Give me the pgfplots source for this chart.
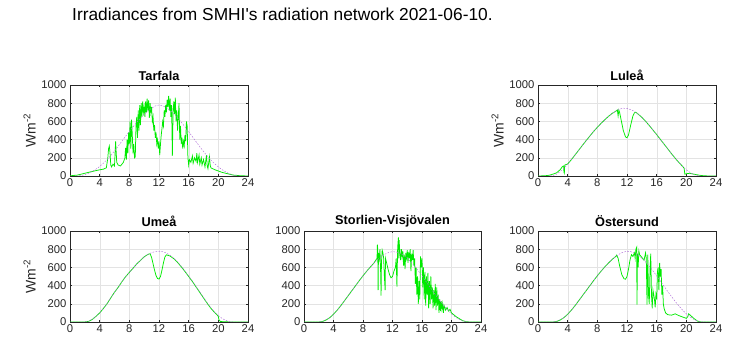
\documentclass[border=0pt]{standalone}
\usepackage{fontspec}
\setmainfont{Liberation Sans}
\newfontfamily\nolig{Liberation Sans}
\usepackage{pgfplots}
\pgfplotsset{compat=1.18}
\definecolor{mgreen}{RGB}{0,235,0}
\definecolor{mpurple}{RGB}{175,110,215}
\definecolor{tickgray}{RGB}{38,38,38}
\pgfplotsset{irr/.style={
 scale only axis, width=178bp, height=91bp, anchor=south west,
 xmin=0,xmax=24,ymin=0,ymax=1000,
 xtick={0,4,...,24}, ytick={0,200,...,1000},
 scaled ticks=false,
 grid=major, grid style={gray!22, line width=0.3pt},
 axis line style={tickgray, line width=0.45pt},
 tick style={tickgray, line width=0.4pt}, major tick length=2bp, tick align=inside,
 ticklabel style={font=\fontsize{11.3}{13}\selectfont, text=tickgray},
 xticklabel style={yshift=1bp},
 /pgf/number format/assume math mode=true,
 /pgf/number format/set thousands separator={},
 title style={font=\bfseries\fontsize{12.8}{14}\selectfont, yshift=-5.5bp},
 ylabel style={font=\fontsize{14}{16}\selectfont, text=tickgray, yshift=-1bp},
},
grn/.style={color=mgreen, line width=0.75bp, no marks},
clr/.style={color=mpurple, line width=0.45bp, dash pattern=on 1.6bp off 1.4bp, no marks}
}
\begin{document}
\begin{tikzpicture}
\path[use as bounding box] (0,0) rectangle (739bp,358bp);
\node[anchor=base west, inner sep=0pt, font=\nolig\fontsize{17.4}{20}\selectfont] at (72bp,337bp) {Irradiances from SMHI's radiation network 2021-06-10.};

% ---------------- Tarfala
\begin{axis}[irr, at={(70bp,182bp)}, title={Tarfala}, ylabel={Wm\textsuperscript{-2}}]
\addplot[grn] coordinates {
(0,2)(1,10)(2,30)(3,50)(4,68)(4.5,75)(4.9,90)(5.1,200)(5.2,300)(5.3,330)(5.4,250)(5.5,120)(5.6,100)(5.8,130)(6.0,110)(6.15,380)(6.3,150)(6.5,120)(6.8,110)(7.0,130)(7.2,150)(7.4,200)(7.5,310)(7.6,180)(7.7,400)(7.8,250)(7.9,480)(8.0,350)(8.1,600)(8.2,300)(8.3,620)(8.4,450)(8.5,250)(8.6,350)(8.7,200)(8.8,210)(8.9,550)(9.0,650)(9.1,420)(9.2,720)(9.3,500)(9.4,780)(9.5,560)(9.6,800)(9.7,650)(9.8,820)(9.9,700)(10.0,760)(10.1,650)(10.2,820)(10.3,700)(10.4,850)(10.5,720)(10.6,830)(10.7,640)(10.8,800)(10.9,700)(11.0,760)(11.1,600)(11.2,650)(11.3,500)(11.4,560)(11.5,420)(11.6,480)(11.7,350)(11.8,400)(11.9,300)(12.0,380)(12.1,230)(12.2,350)(12.3,450)(12.4,520)(12.5,600)(12.6,550)(12.7,720)(12.8,650)(12.9,780)(13.0,700)(13.1,840)(13.2,760)(13.3,880)(13.4,720)(13.5,850)(13.6,650)(13.7,780)(13.8,220)(13.9,700)(14.0,820)(14.1,680)(14.2,860)(14.3,600)(14.4,720)(14.5,500)(14.6,650)(14.7,800)(14.8,400)(14.9,550)(15.0,350)(15.1,420)(15.2,300)(15.3,380)(15.4,330)(15.5,450)(15.6,380)(15.7,600)(15.8,550)(15.9,200)(16.0,120)(16.1,180)(16.3,150)(16.5,220)(16.6,140)(16.8,200)(17.0,160)(17.1,250)(17.2,150)(17.4,230)(17.5,130)(17.7,200)(17.8,120)(18.0,180)(18.2,100)(18.4,230)(18.5,110)(18.6,80)(18.8,210)(18.9,120)(19.0,90)(19.5,70)(20.0,55)(20.5,40)(21.0,30)(21.5,20)(22.0,10)(23.0,3)(24.0,0)};
\addplot[clr] coordinates {
(0,0)(1,0)(1.5,5)(2,15)(2.5,30)(3,50)(3.5,75)(4,105)(4.5,140)(5,180)(5.5,225)(6,275)(6.5,328)(7,382)(7.5,437)(8,490)(8.5,540)(9,590)(9.5,635)(10,677)(10.5,714)(11,745)(11.5,770)(12,780)(12.5,772)(13,750)(13.5,720)(14,682)(14.5,640)(15,592)(15.5,540)(16,487)(16.5,432)(17,377)(17.5,322)(18,270)(18.5,220)(19,175)(19.5,135)(20,100)(20.5,70)(21,45)(21.5,25)(22,10)(22.5,3)(23,0)(24,0)};
\end{axis}

% ---------------- Lulea
\begin{axis}[irr, at={(538bp,182bp)}, title={Luleå}, ylabel={Wm\textsuperscript{-2}}]
\addplot[grn] coordinates {
(0,0)(1,3)(1.5,8)(2,20)(2.5,35)(3,70)(3.3,105)(3.45,110)(3.5,40)(3.55,30)(3.6,120)(4,132)(4.5,180)(5,232)(5.5,285)(6,338)(6.5,390)(7,440)(7.5,490)(8,535)(8.5,578)(9,618)(9.5,655)(10,688)(10.5,712)(10.7,726)(10.8,660)(10.9,724)(11.0,700)(11.2,620)(11.5,500)(11.8,430)(12.0,420)(12.2,450)(12.5,560)(12.8,660)(13.0,695)(13.2,700)(13.5,680)(14,645)(14.5,602)(15,555)(15.5,505)(16,455)(16.5,402)(17,350)(17.5,298)(18,245)(18.5,195)(19,148)(19.5,105)(19.7,85)(19.8,20)(20.0,25)(20.5,30)(21,20)(22,5)(23,0)(24,0)};
\addplot[clr] coordinates {
(0,0)(1.5,0)(2,5)(2.5,20)(3,50)(3.5,85)(4,130)(4.5,180)(5,232)(5.5,285)(6,338)(6.5,390)(7,440)(7.5,490)(8,535)(8.5,578)(9,618)(9.5,655)(10,688)(10.5,715)(11,735)(11.5,745)(12,742)(12.5,730)(13,710)(13.5,680)(14,645)(14.5,602)(15,555)(15.5,505)(16,455)(16.5,402)(17,350)(17.5,298)(18,245)(18.5,195)(19,148)(19.5,105)(20,68)(20.5,38)(21,15)(21.5,4)(22,0)(24,0)};
\end{axis}

% ---------------- Umea
\begin{axis}[irr, at={(70bp,36bp)}, title={Umeå}, ylabel={Wm\textsuperscript{-2}}]
\addplot[grn] coordinates {
(0,0)(1.5,0)(2,1)(2.5,6)(3,28)(3.3,48)(3.5,62)(4,100)(4.5,148)(5,202)(5.5,265)(6,327)(6.5,381)(7,443)(7.5,498)(8,545)(8.5,591)(9,638)(9.5,677)(10,716)(10.5,743)(10.8,750)(11.0,710)(11.2,640)(11.4,570)(11.6,510)(11.8,478)(12.0,472)(12.2,500)(12.4,570)(12.6,650)(12.8,715)(13.0,738)(13.5,725)(14,695)(14.5,655)(15,607)(15.5,555)(16,500)(16.5,445)(17,385)(17.5,325)(18,265)(18.5,205)(19,150)(19.5,104)(19.9,72)(20.0,60)(20.1,20)(20.3,5)(21,2)(22,0)(24,0)};
\addplot[clr] coordinates {
(0,0)(2,0)(2.5,8)(3,31)(3.5,62)(4,101)(4.5,148)(5,202)(5.5,265)(6,327)(6.5,381)(7,443)(7.5,498)(8,545)(8.5,591)(9,638)(9.5,677)(10,716)(10.5,743)(11,762)(11.5,774)(12,778)(12.5,772)(13,758)(13.5,732)(14,700)(14.5,660)(15,612)(15.5,560)(16,505)(16.5,450)(17,390)(17.5,330)(18,270)(18.5,210)(19,155)(19.5,108)(20,70)(20.5,40)(21,18)(21.5,5)(22,0)(24,0)};
\end{axis}

% ---------------- Storlien-Visjovalen
\begin{axis}[irr, width=177bp, at={(304bp,36bp)}, title={Storlien-Visjövalen}]
\addplot[grn] coordinates {
(0,0)(2,0)(2.5,5)(3,22)(3.5,48)(4,85)(4.5,130)(5,180)(5.5,235)(6,290)(6.5,345)(7,400)(7.5,455)(8,508)(8.5,558)(9,605)(9.5,650)(9.9,700)(9.95,850)(10.0,800)(10.05,350)(10.1,760)(10.2,700)(10.3,800)(10.4,520)(10.45,290)(10.5,650)(10.6,790)(10.7,760)(10.8,700)(10.9,500)(11.0,350)(11.05,700)(11.2,650)(11.4,580)(11.6,520)(11.8,485)(12.0,500)(12.2,560)(12.4,600)(12.5,700)(12.6,390)(12.7,820)(12.8,930)(12.85,700)(12.9,900)(13.0,750)(13.1,680)(13.2,800)(13.3,720)(13.4,780)(13.5,620)(13.6,740)(13.7,580)(13.8,760)(13.9,700)(14.0,790)(14.1,650)(14.2,770)(14.3,700)(14.4,800)(14.5,560)(14.6,750)(14.7,680)(14.8,790)(14.9,620)(15.0,700)(15.1,420)(15.2,600)(15.3,300)(15.4,500)(15.5,200)(15.6,450)(15.7,250)(15.8,720)(15.9,600)(16.0,700)(16.1,380)(16.2,600)(16.3,250)(16.4,550)(16.5,180)(16.6,500)(16.7,300)(16.8,540)(16.9,150)(17.0,450)(17.1,200)(17.2,500)(17.3,250)(17.4,380)(17.5,150)(17.6,350)(17.7,180)(17.8,420)(17.9,130)(18.0,380)(18.1,180)(18.2,300)(18.3,100)(18.4,250)(18.5,120)(18.6,230)(18.7,140)(18.8,200)(18.9,100)(19.0,180)(19.2,130)(19.4,160)(19.6,120)(19.8,140)(20.0,100)(20.3,80)(20.6,60)(21.0,40)(21.5,15)(22.0,3)(22.5,0)(24,0)};
\addplot[clr] coordinates {
(0,0)(2,0)(2.5,8)(3,25)(3.5,50)(4,85)(4.5,130)(5,180)(5.5,235)(6,290)(6.5,345)(7,400)(7.5,455)(8,508)(8.5,558)(9,605)(9.5,648)(10,688)(10.5,720)(11,746)(11.5,765)(12,773)(12.5,770)(13,756)(13.5,732)(14,700)(14.5,660)(15,614)(15.5,562)(16,507)(16.5,450)(17,392)(17.5,335)(18,280)(18.5,226)(19,176)(19.5,130)(20,90)(20.5,56)(21,30)(21.5,12)(22,3)(22.5,0)(24,0)};
\end{axis}

% ---------------- Ostersund
\begin{axis}[irr, at={(538bp,36bp)}, title={Östersund}]
\addplot[grn] coordinates {
(0,0)(2,0)(2.5,5)(3,22)(3.5,48)(4,85)(4.5,130)(5,180)(5.5,235)(6,290)(6.5,345)(7,400)(7.5,455)(8,508)(8.5,558)(9,605)(9.5,648)(10,688)(10.5,722)(10.6,735)(10.8,700)(11.0,620)(11.3,520)(11.6,475)(11.8,470)(12.0,500)(12.2,580)(12.4,680)(12.6,740)(12.8,720)(13.0,760)(13.1,700)(13.2,800)(13.3,820)(13.35,190)(13.4,750)(13.5,600)(13.6,780)(13.7,740)(13.9,720)(14.1,700)(14.3,680)(14.5,760)(14.6,700)(14.7,190)(14.8,740)(14.9,300)(15.0,200)(15.1,560)(15.2,750)(15.3,300)(15.4,150)(15.5,350)(15.6,300)(15.7,250)(15.8,160)(15.9,300)(16.0,250)(16.1,550)(16.2,600)(16.3,350)(16.4,650)(16.5,500)(16.6,580)(16.7,300)(16.8,400)(16.9,200)(17.0,150)(17.2,100)(17.5,80)(18.0,75)(18.5,90)(19.0,70)(19.5,55)(20.0,40)(20.2,60)(20.3,90)(20.6,70)(21.0,40)(21.5,10)(22,0)(24,0)};
\addplot[clr] coordinates {
(0,0)(2,0)(2.5,8)(3,25)(3.5,50)(4,85)(4.5,130)(5,180)(5.5,235)(6,290)(6.5,345)(7,400)(7.5,455)(8,508)(8.5,558)(9,605)(9.5,648)(10,688)(10.5,720)(11,748)(11.5,768)(12,777)(12.5,773)(13,758)(13.5,734)(14,700)(14.5,660)(15,614)(15.5,562)(16,507)(16.5,450)(17,392)(17.5,335)(18,280)(18.5,226)(19,176)(19.5,130)(20,90)(20.5,56)(21,30)(21.5,12)(22,3)(22.5,0)(24,0)};
\end{axis}
\end{tikzpicture}
\end{document}
